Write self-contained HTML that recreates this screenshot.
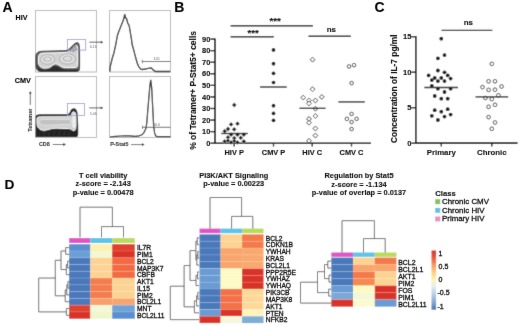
<!DOCTYPE html>
<html><head><meta charset="utf-8"><style>
html,body{margin:0;padding:0;background:#fff;}
body{width:520px;height:326px;overflow:hidden;}
svg{display:block;font-family:"Liberation Sans", sans-serif;}
</style></head><body>
<svg width="520" height="326" viewBox="0 0 520 326" font-family='"Liberation Sans", sans-serif'>
<defs><filter id="soft" x="0" y="0" width="520" height="326" filterUnits="userSpaceOnUse" primitiveUnits="userSpaceOnUse"><feConvolveMatrix order="3" kernelMatrix="0.01440 0.09120 0.01440 0.09120 0.57760 0.09120 0.01440 0.09120 0.01440" divisor="1" edgeMode="duplicate"/></filter></defs>
<filter id="softt" x="0" y="0" width="520" height="326" filterUnits="userSpaceOnUse" primitiveUnits="userSpaceOnUse"><feConvolveMatrix order="3" kernelMatrix="0.00250 0.04500 0.00250 0.04500 0.81000 0.04500 0.00250 0.04500 0.00250" divisor="1" edgeMode="duplicate"/></filter>
<rect width="520" height="326" fill="#fff"/>
<g filter="url(#soft)">
<rect width="520" height="326" fill="#fff"/>
<rect x="35.5" y="10.5" width="61" height="61.5" fill="none" stroke="#b8b8b8" stroke-width="1"/>
<rect x="35.5" y="76.5" width="61" height="61" fill="none" stroke="#b8b8b8" stroke-width="1"/>
<rect x="109.5" y="10.5" width="61" height="61.5" fill="none" stroke="#b8b8b8" stroke-width="1"/>
<rect x="109.5" y="76.5" width="61" height="61" fill="none" stroke="#b8b8b8" stroke-width="1"/>
<path d="M35.9,57 C35.9,53 37.8,51.4 42,51.3 L64,50.7 C66.5,50.6 68,50 69.5,48.6 L72.5,45.5 C74,44 75.8,42.7 77.3,42.6 C78.8,42.6 79.3,44.5 79.4,48 L79.6,52 L79.6,68 C79.6,70.6 78.6,71.4 76,71.4 L41,71.4 C37.5,71.4 35.9,69 35.9,65 Z" fill="#6a6a6a" stroke="#242424" stroke-width="0.9"/>
<path d="M37,64 C38,67 40,69.5 45,69.5 C48,69.5 50,68.5 52,67 C54,65.5 56,65.5 58,66.5 C61,68.5 63,69.5 66,69.5 L78,69.5 L79.4,69 L79.4,70 C79.2,71 78.4,71.4 76,71.4 L41,71.4 C38.5,71.4 37.2,69 37,66 Z" fill="#2e2e2e"/>
<path d="M38.5,57.5 C38.5,54.6 40.2,53.2 43.5,53.1 L65,52.6 C67.5,52.5 69,51.8 70.5,50.5 L73.5,47.5 C74.8,46.3 75.8,45.5 76.6,45.5 C77.5,45.5 77.7,46.8 77.7,49.5 L77.7,64.5 C77.7,66.8 76.7,67.6 74,67.6 L65,67.6 C61.5,67.6 59.5,64.8 57,64 C54.8,63.4 53,64.4 51,66.3 C49.5,67.6 47.8,68.1 45,68.1 C40.8,68.1 38.5,65.5 38.5,61.5 Z" fill="#d2d2d2" stroke="#fdfdfd" stroke-width="1.0"/>
<ellipse cx="47.5" cy="59.5" rx="7.4" ry="4.8" fill="none" stroke="#9a9a9a" stroke-width="0.5"/>
<ellipse cx="47.5" cy="59.3" rx="5.6" ry="3.4" fill="none" stroke="#ffffff" stroke-width="0.5"/>
<ellipse cx="47.5" cy="59.1" rx="3.8" ry="2.2" fill="none" stroke="#9a9a9a" stroke-width="0.5"/>
<ellipse cx="47.5" cy="59" rx="2" ry="1.1" fill="none" stroke="#ffffff" stroke-width="0.5"/>
<ellipse cx="67.5" cy="59" rx="8.2" ry="5.2" fill="none" stroke="#9a9a9a" stroke-width="0.5"/>
<ellipse cx="67.5" cy="58.8" rx="6.2" ry="3.8" fill="none" stroke="#ffffff" stroke-width="0.5"/>
<ellipse cx="67.5" cy="58.6" rx="4.2" ry="2.5" fill="none" stroke="#9a9a9a" stroke-width="0.5"/>
<ellipse cx="67.5" cy="58.5" rx="2.2" ry="1.3" fill="none" stroke="#ffffff" stroke-width="0.5"/>
<path d="M43,68.8 L40.5,71 M47,68.8 L44.5,71 M51,67.8 L48.5,71 M55,66.3 L52.5,71 M59,67.2 L56.5,71 M63,68.5 L60.5,71 M67,68.6 L64.5,71 M71,68.6 L68.5,71 M75,68.6 L72.5,71" stroke="#2e2e2e" stroke-width="0.55" fill="none"/>
<path d="M70,51.5 L73.5,48 L76.2,46.2 M72.8,52 L75.6,49 L77,48" stroke="#2a2a2a" stroke-width="0.75" fill="none"/>
<rect x="67.5" y="39.5" width="18.2" height="10.6" fill="none" stroke="#9898d4" stroke-width="0.85"/>
<line x1="89.2" y1="42.2" x2="101.5" y2="42.2" stroke="#333" stroke-width="0.8"/>
<path d="M100.8,40.8 L103.2,42.2 L100.8,43.6 Z" fill="#111"/>
<path d="M35.6,117 C35.6,115.2 37,114.4 40,114.3 L67.5,114.2 C69,114.1 69.8,112.5 70.6,110.6 C71.4,108.9 72.8,108.2 74.2,108.3 C76,108.5 77.2,110.5 77.6,113.5 L78.2,125 L78.2,134.5 C78.2,136.4 77.4,137 75,137 L35.6,137 Z" fill="#232323"/>
<path d="M36.9,119 C36.9,117.4 38,116.8 40.5,116.8 L69.5,116.7 C70.7,116.6 71.3,114.8 72,113.2 C72.8,111.5 74.6,111.3 75.3,113 C76.1,115.2 76.2,120 76.1,125 C76,129 75.4,130.6 73.8,130.6 C72.3,130.6 71.3,128.9 68.8,128.6 L56,128.2 C50.5,128.2 47.5,130.3 44,130.3 C39.5,130.3 36.9,127 36.9,123 Z" fill="#d0d0d0" stroke="#fcfcfc" stroke-width="0.95"/>
<path d="M39.5,121.5 C39.5,120 41,119.5 43.5,119.5 L68,119.4 C70,119.4 71,120.4 71,122 C71,123.6 70,124.6 68,124.6 L46,125.2 C42,125.3 39.5,124.2 39.5,121.5 Z" fill="#c2c2c2" stroke="#f0f0f0" stroke-width="0.6"/>
<path d="M72.8,115.5 C73.4,113.5 74.6,113.6 74.8,116 L74.8,126 C74.7,128.5 73.2,128.6 72.9,126 Z" fill="#e8e8e8" stroke="#fff" stroke-width="0.6"/>
<path d="M40,132.5 L38.5,136 M45,132 L43.5,136 M50,131.5 L48.5,136 M55,131 L53.5,136 M60,131 L58.5,136 M65,131 L63.5,136 M70,131.5 L68.5,136" stroke="#4a4a4a" stroke-width="0.4" fill="none"/>
<rect x="67.4" y="103.5" width="17.1" height="12" fill="none" stroke="#9898d4" stroke-width="0.85"/>
<line x1="89.2" y1="107.9" x2="101.5" y2="107.9" stroke="#333" stroke-width="0.8"/>
<path d="M100.8,106.5 L103.2,107.9 L100.8,109.3 Z" fill="#111"/>
<line x1="30.3" y1="105" x2="30.3" y2="93" stroke="#222" stroke-width="0.7"/>
<path d="M28.9,93.6 L30.3,91.2 L31.7,93.6 Z" fill="#111"/>
<line x1="52.8" y1="144.5" x2="64" y2="144.5" stroke="#222" stroke-width="0.7"/>
<path d="M63.4,143.1 L65.8,144.5 L63.4,145.9 Z" fill="#111"/>
<line x1="131" y1="144.6" x2="142.6" y2="144.6" stroke="#444" stroke-width="0.8"/>
<path d="M142,143.2 L144.5,144.6 L142,146 Z" fill="#111"/>
<path d="M109.8,71.6 L110.2,66.5 L111,63.6 L112.3,58 L113.9,53 L115.8,44.3 L117.4,35.5 L118.8,31.6 L120.7,26.7 L122.7,21.8 L124.1,17.8 L124.7,14.2 L125.2,16.5 L125.6,17.8 L126.6,18.6 L127.6,22.7 L129.2,25.7 L130.5,33.5 L131.5,39.4 L132.1,44.3 L133.5,49.2 L135.7,57.8 L137.2,63 L138.7,66.6 L140.8,69.2 L142.3,69.5 L146,68.8 L149.6,68.2 L151.4,67.9 L152.5,69.2 L154,70.6 L155.8,71.5 L170.3,71.5" fill="none" stroke="#222" stroke-width="1.3"/>
<line x1="142.3" y1="61.5" x2="170.5" y2="61.5" stroke="#666" stroke-width="1.0"/>
<line x1="142.3" y1="59.8" x2="142.3" y2="63.2" stroke="#666" stroke-width="0.9"/>
<path d="M110,137 L113,136.6 L116,136.3 L120,136.0 L125,135.8 L130,135.9 L135,136.3 L138.9,135.8 L141.9,134.8 L143.8,132.9 L145.8,128.9 L146.8,123 L147.7,111.3 L148.7,99.5 L149.7,87.8 L150.7,79.9 L151.7,87.8 L152.6,105.4 L153.6,125 L154.6,132.9 L155.6,135.8 L157.5,136.6 L170.5,136.6" fill="none" stroke="#222" stroke-width="1.25"/>
<line x1="142.5" y1="127.3" x2="170.5" y2="127.3" stroke="#666" stroke-width="1.0"/>
<line x1="142.5" y1="125.6" x2="142.5" y2="129" stroke="#666" stroke-width="0.9"/>
<line x1="215.0" y1="38.4" x2="215.0" y2="143.9" stroke="#000" stroke-width="1.6"/>
<line x1="214.3" y1="143.2" x2="371" y2="143.2" stroke="#000" stroke-width="1.6"/>
<line x1="210.3" y1="143.2" x2="215" y2="143.2" stroke="#000" stroke-width="1.35"/>
<line x1="210.3" y1="131.63" x2="215" y2="131.63" stroke="#000" stroke-width="1.35"/>
<line x1="210.3" y1="120.05999999999999" x2="215" y2="120.05999999999999" stroke="#000" stroke-width="1.35"/>
<line x1="210.3" y1="108.48999999999998" x2="215" y2="108.48999999999998" stroke="#000" stroke-width="1.35"/>
<line x1="210.3" y1="96.91999999999999" x2="215" y2="96.91999999999999" stroke="#000" stroke-width="1.35"/>
<line x1="210.3" y1="85.35" x2="215" y2="85.35" stroke="#000" stroke-width="1.35"/>
<line x1="210.3" y1="73.77999999999999" x2="215" y2="73.77999999999999" stroke="#000" stroke-width="1.35"/>
<line x1="210.3" y1="62.20999999999998" x2="215" y2="62.20999999999998" stroke="#000" stroke-width="1.35"/>
<line x1="210.3" y1="50.639999999999986" x2="215" y2="50.639999999999986" stroke="#000" stroke-width="1.35"/>
<line x1="210.3" y1="39.06999999999999" x2="215" y2="39.06999999999999" stroke="#000" stroke-width="1.35"/>
<line x1="234.2" y1="143.2" x2="234.2" y2="146.5" stroke="#000" stroke-width="1.3"/>
<line x1="273.5" y1="143.2" x2="273.5" y2="146.5" stroke="#000" stroke-width="1.3"/>
<line x1="312.2" y1="143.2" x2="312.2" y2="146.5" stroke="#000" stroke-width="1.3"/>
<line x1="351.5" y1="143.2" x2="351.5" y2="146.5" stroke="#000" stroke-width="1.3"/>
<line x1="230.6" y1="25.7" x2="312.9" y2="25.7" stroke="#1a1a1a" stroke-width="1.35"/>
<line x1="230.6" y1="36.7" x2="273.8" y2="36.7" stroke="#1a1a1a" stroke-width="1.35"/>
<line x1="308.5" y1="36.2" x2="350.8" y2="36.2" stroke="#1a1a1a" stroke-width="1.35"/>
<path d="M234.2,102.6 L236.6,105 L234.2,107.4 L231.79999999999998,105 Z" fill="#111" stroke="#fff" stroke-width="0.5"/>
<path d="M231.1,121.99999999999999 L233.5,124.39999999999999 L231.1,126.8 L228.7,124.39999999999999 Z" fill="#111" stroke="#fff" stroke-width="0.5"/>
<path d="M237.5,121.29999999999998 L239.9,123.69999999999999 L237.5,126.1 L235.1,123.69999999999999 Z" fill="#111" stroke="#fff" stroke-width="0.5"/>
<path d="M228,126.6 L230.4,129.0 L228,131.4 L225.6,129.0 Z" fill="#111" stroke="#fff" stroke-width="0.5"/>
<path d="M234.2,126.89999999999998 L236.6,129.29999999999998 L234.2,131.7 L231.79999999999998,129.29999999999998 Z" fill="#111" stroke="#fff" stroke-width="0.5"/>
<path d="M224.7,128.79999999999998 L227.1,131.2 L224.7,133.6 L222.29999999999998,131.2 Z" fill="#111" stroke="#fff" stroke-width="0.5"/>
<path d="M231.1,132.29999999999998 L233.5,134.7 L231.1,137.1 L228.7,134.7 Z" fill="#111" stroke="#fff" stroke-width="0.5"/>
<path d="M237.5,132.29999999999998 L239.9,134.7 L237.5,137.1 L235.1,134.7 Z" fill="#111" stroke="#fff" stroke-width="0.5"/>
<path d="M243.8,132.29999999999998 L246.20000000000002,134.7 L243.8,137.1 L241.4,134.7 Z" fill="#111" stroke="#fff" stroke-width="0.5"/>
<path d="M228,134.89999999999998 L230.4,137.29999999999998 L228,139.7 L225.6,137.29999999999998 Z" fill="#111" stroke="#fff" stroke-width="0.5"/>
<path d="M240.8,135.39999999999998 L243.20000000000002,137.79999999999998 L240.8,140.2 L238.4,137.79999999999998 Z" fill="#111" stroke="#fff" stroke-width="0.5"/>
<path d="M234.2,135.7 L236.6,138.1 L234.2,140.5 L231.79999999999998,138.1 Z" fill="#111" stroke="#fff" stroke-width="0.5"/>
<path d="M224.7,138.89999999999998 L227.1,141.29999999999998 L224.7,143.7 L222.29999999999998,141.29999999999998 Z" fill="#111" stroke="#fff" stroke-width="0.5"/>
<path d="M228,138.39999999999998 L230.4,140.79999999999998 L228,143.2 L225.6,140.79999999999998 Z" fill="#111" stroke="#fff" stroke-width="0.5"/>
<path d="M234.2,138.6 L236.6,141.0 L234.2,143.4 L231.79999999999998,141.0 Z" fill="#111" stroke="#fff" stroke-width="0.5"/>
<path d="M243.8,138.89999999999998 L246.20000000000002,141.29999999999998 L243.8,143.7 L241.4,141.29999999999998 Z" fill="#111" stroke="#fff" stroke-width="0.5"/>
<path d="M231.1,140.0 L233.5,142.4 L231.1,144.8 L228.7,142.4 Z" fill="#111" stroke="#fff" stroke-width="0.5"/>
<path d="M237.5,140.0 L239.9,142.4 L237.5,144.8 L235.1,142.4 Z" fill="#111" stroke="#fff" stroke-width="0.5"/>
<line x1="221.1" y1="133.5" x2="248" y2="133.5" stroke="#111" stroke-width="1.3"/>
<circle cx="273.5" cy="49.900000000000006" r="1.85" fill="#111" stroke="none" stroke-width="0.7"/>
<circle cx="273.5" cy="63.7" r="1.85" fill="#111" stroke="none" stroke-width="0.7"/>
<circle cx="273.5" cy="73.3" r="1.85" fill="#111" stroke="none" stroke-width="0.7"/>
<circle cx="273.5" cy="82.5" r="1.85" fill="#111" stroke="none" stroke-width="0.7"/>
<circle cx="273.5" cy="105.7" r="1.85" fill="#111" stroke="none" stroke-width="0.7"/>
<circle cx="273.5" cy="113.4" r="1.85" fill="#111" stroke="none" stroke-width="0.7"/>
<circle cx="273.5" cy="120.3" r="1.85" fill="#111" stroke="none" stroke-width="0.7"/>
<line x1="260" y1="87" x2="286.8" y2="87" stroke="#1a1a1a" stroke-width="1.3"/>
<path d="M312.5,57.3 L314.9,59.699999999999996 L312.5,62.099999999999994 L310.1,59.699999999999996 Z" fill="#fff" stroke="#1a1a1a" stroke-width="0.85"/>
<path d="M312.5,86.8 L314.9,89.2 L312.5,91.60000000000001 L310.1,89.2 Z" fill="#fff" stroke="#1a1a1a" stroke-width="0.85"/>
<path d="M303.2,95.2 L305.59999999999997,97.60000000000001 L303.2,100.00000000000001 L300.8,97.60000000000001 Z" fill="#fff" stroke="#1a1a1a" stroke-width="0.85"/>
<path d="M309,98.1 L311.4,100.5 L309,102.9 L306.6,100.5 Z" fill="#fff" stroke="#1a1a1a" stroke-width="0.85"/>
<path d="M309,101.1 L311.4,103.5 L309,105.9 L306.6,103.5 Z" fill="#fff" stroke="#1a1a1a" stroke-width="0.85"/>
<path d="M315.4,98.1 L317.79999999999995,100.5 L315.4,102.9 L313.0,100.5 Z" fill="#fff" stroke="#1a1a1a" stroke-width="0.85"/>
<path d="M321.8,94.5 L324.2,96.9 L321.8,99.30000000000001 L319.40000000000003,96.9 Z" fill="#fff" stroke="#1a1a1a" stroke-width="0.85"/>
<path d="M315.4,106.3 L317.79999999999995,108.7 L315.4,111.10000000000001 L313.0,108.7 Z" fill="#fff" stroke="#1a1a1a" stroke-width="0.85"/>
<path d="M309,116.5 L311.4,118.9 L309,121.30000000000001 L306.6,118.9 Z" fill="#fff" stroke="#1a1a1a" stroke-width="0.85"/>
<path d="M309,120.3 L311.4,122.7 L309,125.10000000000001 L306.6,122.7 Z" fill="#fff" stroke="#1a1a1a" stroke-width="0.85"/>
<path d="M315.4,113.6 L317.79999999999995,116.0 L315.4,118.4 L313.0,116.0 Z" fill="#fff" stroke="#1a1a1a" stroke-width="0.85"/>
<path d="M315.4,126.1 L317.79999999999995,128.5 L315.4,130.9 L313.0,128.5 Z" fill="#fff" stroke="#1a1a1a" stroke-width="0.85"/>
<path d="M315.4,133.1 L317.79999999999995,135.5 L315.4,137.9 L313.0,135.5 Z" fill="#fff" stroke="#1a1a1a" stroke-width="0.85"/>
<path d="M309,138.4 L311.4,140.8 L309,143.20000000000002 L306.6,140.8 Z" fill="#fff" stroke="#1a1a1a" stroke-width="0.85"/>
<line x1="299.4" y1="108.3" x2="325.6" y2="108.3" stroke="#1a1a1a" stroke-width="1.3"/>
<circle cx="349.0" cy="66.45" r="1.8" fill="#fff" stroke="#1a1a1a" stroke-width="0.8"/>
<circle cx="354.0" cy="65.15" r="1.8" fill="#fff" stroke="#1a1a1a" stroke-width="0.8"/>
<circle cx="351.59999999999997" cy="83.15" r="1.8" fill="#fff" stroke="#1a1a1a" stroke-width="0.8"/>
<circle cx="351.59999999999997" cy="113.95" r="1.8" fill="#fff" stroke="#1a1a1a" stroke-width="0.8"/>
<circle cx="346.9" cy="118.85" r="1.8" fill="#fff" stroke="#1a1a1a" stroke-width="0.8"/>
<circle cx="356.59999999999997" cy="118.85" r="1.8" fill="#fff" stroke="#1a1a1a" stroke-width="0.8"/>
<circle cx="351.59999999999997" cy="122.05" r="1.8" fill="#fff" stroke="#1a1a1a" stroke-width="0.8"/>
<circle cx="351.59999999999997" cy="129.05" r="1.8" fill="#fff" stroke="#1a1a1a" stroke-width="0.8"/>
<line x1="338.4" y1="101.9" x2="364.8" y2="101.9" stroke="#1a1a1a" stroke-width="1.3"/>
<line x1="415.8" y1="36.1" x2="415.8" y2="143.9" stroke="#000" stroke-width="1.6"/>
<line x1="415.1" y1="143.1" x2="517.5" y2="143.1" stroke="#000" stroke-width="1.6"/>
<line x1="411.3" y1="143.2" x2="415.8" y2="143.2" stroke="#000" stroke-width="1.35"/>
<line x1="411.3" y1="107.69999999999999" x2="415.8" y2="107.69999999999999" stroke="#000" stroke-width="1.35"/>
<line x1="411.3" y1="72.19999999999999" x2="415.8" y2="72.19999999999999" stroke="#000" stroke-width="1.35"/>
<line x1="411.3" y1="36.69999999999999" x2="415.8" y2="36.69999999999999" stroke="#000" stroke-width="1.35"/>
<line x1="441.3" y1="143.2" x2="441.3" y2="146.5" stroke="#000" stroke-width="1.3"/>
<line x1="491.8" y1="143.2" x2="491.8" y2="146.5" stroke="#000" stroke-width="1.3"/>
<line x1="441.6" y1="30.3" x2="492.3" y2="30.3" stroke="#1a1a1a" stroke-width="1.3"/>
<circle cx="441.3" cy="38.699999999999996" r="1.9" fill="#111" stroke="none" stroke-width="0.7"/>
<circle cx="437.9" cy="58.3" r="1.9" fill="#111" stroke="none" stroke-width="0.7"/>
<circle cx="444.5" cy="55.099999999999994" r="1.9" fill="#111" stroke="none" stroke-width="0.7"/>
<circle cx="437.9" cy="70.5" r="1.9" fill="#111" stroke="none" stroke-width="0.7"/>
<circle cx="444.5" cy="72.3" r="1.9" fill="#111" stroke="none" stroke-width="0.7"/>
<circle cx="428.6" cy="75.39999999999999" r="1.9" fill="#111" stroke="none" stroke-width="0.7"/>
<circle cx="434.7" cy="77.89999999999999" r="1.9" fill="#111" stroke="none" stroke-width="0.7"/>
<circle cx="447.7" cy="75.39999999999999" r="1.9" fill="#111" stroke="none" stroke-width="0.7"/>
<circle cx="441.3" cy="77.89999999999999" r="1.9" fill="#111" stroke="none" stroke-width="0.7"/>
<circle cx="431.8" cy="80.1" r="1.9" fill="#111" stroke="none" stroke-width="0.7"/>
<circle cx="437.9" cy="81.1" r="1.9" fill="#111" stroke="none" stroke-width="0.7"/>
<circle cx="444.5" cy="81.1" r="1.9" fill="#111" stroke="none" stroke-width="0.7"/>
<circle cx="450.6" cy="78.6" r="1.9" fill="#111" stroke="none" stroke-width="0.7"/>
<circle cx="431.8" cy="85.8" r="1.9" fill="#111" stroke="none" stroke-width="0.7"/>
<circle cx="437.9" cy="88.7" r="1.9" fill="#111" stroke="none" stroke-width="0.7"/>
<circle cx="450.6" cy="88.7" r="1.9" fill="#111" stroke="none" stroke-width="0.7"/>
<circle cx="444.5" cy="92.0" r="1.9" fill="#111" stroke="none" stroke-width="0.7"/>
<circle cx="434.7" cy="96.0" r="1.9" fill="#111" stroke="none" stroke-width="0.7"/>
<circle cx="441.3" cy="98.7" r="1.9" fill="#111" stroke="none" stroke-width="0.7"/>
<circle cx="447.7" cy="98.7" r="1.9" fill="#111" stroke="none" stroke-width="0.7"/>
<circle cx="434.7" cy="110.2" r="1.9" fill="#111" stroke="none" stroke-width="0.7"/>
<circle cx="441.3" cy="111.7" r="1.9" fill="#111" stroke="none" stroke-width="0.7"/>
<circle cx="447.7" cy="109.2" r="1.9" fill="#111" stroke="none" stroke-width="0.7"/>
<circle cx="431.8" cy="115.8" r="1.9" fill="#111" stroke="none" stroke-width="0.7"/>
<circle cx="444.5" cy="116.6" r="1.9" fill="#111" stroke="none" stroke-width="0.7"/>
<circle cx="450.6" cy="114.6" r="1.9" fill="#111" stroke="none" stroke-width="0.7"/>
<circle cx="437.9" cy="120.0" r="1.9" fill="#111" stroke="none" stroke-width="0.7"/>
<line x1="424.4" y1="87.5" x2="458" y2="87.5" stroke="#1a1a1a" stroke-width="1.3"/>
<circle cx="491.8" cy="63.9" r="1.85" fill="#fff" stroke="#222" stroke-width="0.8"/>
<circle cx="488.6" cy="81.3" r="1.85" fill="#fff" stroke="#222" stroke-width="0.8"/>
<circle cx="495" cy="81.3" r="1.85" fill="#fff" stroke="#222" stroke-width="0.8"/>
<circle cx="482.5" cy="87.1" r="1.85" fill="#fff" stroke="#222" stroke-width="0.8"/>
<circle cx="488.6" cy="89.89999999999999" r="1.85" fill="#fff" stroke="#222" stroke-width="0.8"/>
<circle cx="495" cy="89.7" r="1.85" fill="#fff" stroke="#222" stroke-width="0.8"/>
<circle cx="501.6" cy="86.5" r="1.85" fill="#fff" stroke="#222" stroke-width="0.8"/>
<circle cx="498.4" cy="95.3" r="1.85" fill="#fff" stroke="#222" stroke-width="0.8"/>
<circle cx="485.4" cy="98.0" r="1.85" fill="#fff" stroke="#222" stroke-width="0.8"/>
<circle cx="491.8" cy="99.1" r="1.85" fill="#fff" stroke="#222" stroke-width="0.8"/>
<circle cx="488.6" cy="106.8" r="1.85" fill="#fff" stroke="#222" stroke-width="0.8"/>
<circle cx="495" cy="104.8" r="1.85" fill="#fff" stroke="#222" stroke-width="0.8"/>
<circle cx="488.6" cy="117.1" r="1.85" fill="#fff" stroke="#222" stroke-width="0.8"/>
<circle cx="495" cy="122.5" r="1.85" fill="#fff" stroke="#222" stroke-width="0.8"/>
<circle cx="491.8" cy="128.8" r="1.85" fill="#fff" stroke="#222" stroke-width="0.8"/>
<line x1="475.5" y1="96.9" x2="508.2" y2="96.9" stroke="#1a1a1a" stroke-width="1.3"/>
<rect x="69.1" y="238.1" width="21.30000000000001" height="4.9" fill="#e052c8" stroke="none" stroke-width="1"/>
<rect x="90.4" y="238.1" width="21.799999999999997" height="4.9" fill="#5cc4e8" stroke="none" stroke-width="1"/>
<rect x="112.2" y="238.1" width="22.60000000000001" height="4.9" fill="#b8dc58" stroke="none" stroke-width="1"/>
<rect x="69.1" y="244.2" width="21.350000000000012" height="6.819999999999999" fill="#5b8fcf" stroke="none" stroke-width="1"/>
<rect x="90.4" y="244.2" width="21.849999999999998" height="6.819999999999999" fill="#fdf0b0" stroke="none" stroke-width="1"/>
<rect x="112.2" y="244.2" width="22.65000000000001" height="6.819999999999999" fill="#e0402e" stroke="none" stroke-width="1"/>
<rect x="69.1" y="250.97" width="21.350000000000012" height="6.819999999999999" fill="#6a9fd6" stroke="none" stroke-width="1"/>
<rect x="90.4" y="250.97" width="21.849999999999998" height="6.819999999999999" fill="#f5f7d0" stroke="none" stroke-width="1"/>
<rect x="112.2" y="250.97" width="22.65000000000001" height="6.819999999999999" fill="#d93027" stroke="none" stroke-width="1"/>
<rect x="69.1" y="257.74" width="21.350000000000012" height="6.819999999999999" fill="#4a78bb" stroke="none" stroke-width="1"/>
<rect x="90.4" y="257.74" width="21.849999999999998" height="6.819999999999999" fill="#fdd393" stroke="none" stroke-width="1"/>
<rect x="112.2" y="257.74" width="22.65000000000001" height="6.819999999999999" fill="#f36b43" stroke="none" stroke-width="1"/>
<rect x="69.1" y="264.51" width="21.350000000000012" height="6.819999999999999" fill="#4a78bb" stroke="none" stroke-width="1"/>
<rect x="90.4" y="264.51" width="21.849999999999998" height="6.819999999999999" fill="#fdd393" stroke="none" stroke-width="1"/>
<rect x="112.2" y="264.51" width="22.65000000000001" height="6.819999999999999" fill="#f36b43" stroke="none" stroke-width="1"/>
<rect x="69.1" y="271.28" width="21.350000000000012" height="6.819999999999999" fill="#4a78bb" stroke="none" stroke-width="1"/>
<rect x="90.4" y="271.28" width="21.849999999999998" height="6.819999999999999" fill="#fdd393" stroke="none" stroke-width="1"/>
<rect x="112.2" y="271.28" width="22.65000000000001" height="6.819999999999999" fill="#f36b43" stroke="none" stroke-width="1"/>
<rect x="69.1" y="278.04999999999995" width="21.350000000000012" height="6.819999999999999" fill="#4a78bb" stroke="none" stroke-width="1"/>
<rect x="90.4" y="278.04999999999995" width="21.849999999999998" height="6.819999999999999" fill="#f47d4e" stroke="none" stroke-width="1"/>
<rect x="112.2" y="278.04999999999995" width="22.65000000000001" height="6.819999999999999" fill="#fdd393" stroke="none" stroke-width="1"/>
<rect x="69.1" y="284.82" width="21.350000000000012" height="6.819999999999999" fill="#4a78bb" stroke="none" stroke-width="1"/>
<rect x="90.4" y="284.82" width="21.849999999999998" height="6.819999999999999" fill="#f47d4e" stroke="none" stroke-width="1"/>
<rect x="112.2" y="284.82" width="22.65000000000001" height="6.819999999999999" fill="#fdd393" stroke="none" stroke-width="1"/>
<rect x="69.1" y="291.59" width="21.350000000000012" height="6.819999999999999" fill="#4a78bb" stroke="none" stroke-width="1"/>
<rect x="90.4" y="291.59" width="21.849999999999998" height="6.819999999999999" fill="#f47d4e" stroke="none" stroke-width="1"/>
<rect x="112.2" y="291.59" width="22.65000000000001" height="6.819999999999999" fill="#fdd393" stroke="none" stroke-width="1"/>
<rect x="69.1" y="298.36" width="21.350000000000012" height="6.819999999999999" fill="#4a78bb" stroke="none" stroke-width="1"/>
<rect x="90.4" y="298.36" width="21.849999999999998" height="6.819999999999999" fill="#f9a06b" stroke="none" stroke-width="1"/>
<rect x="112.2" y="298.36" width="22.65000000000001" height="6.819999999999999" fill="#f9a46e" stroke="none" stroke-width="1"/>
<rect x="69.1" y="305.13" width="21.350000000000012" height="6.819999999999999" fill="#e0402e" stroke="none" stroke-width="1"/>
<rect x="90.4" y="305.13" width="21.849999999999998" height="6.819999999999999" fill="#f3f8d6" stroke="none" stroke-width="1"/>
<rect x="112.2" y="305.13" width="22.65000000000001" height="6.819999999999999" fill="#6ea3d8" stroke="none" stroke-width="1"/>
<rect x="69.1" y="311.9" width="21.350000000000012" height="6.819999999999999" fill="#d93027" stroke="none" stroke-width="1"/>
<rect x="90.4" y="311.9" width="21.849999999999998" height="6.819999999999999" fill="#f0f6cc" stroke="none" stroke-width="1"/>
<rect x="112.2" y="311.9" width="22.65000000000001" height="6.819999999999999" fill="#5a8fcf" stroke="none" stroke-width="1"/>
<line x1="69.1" y1="250.97" x2="134.8" y2="250.97" stroke="rgba(255,255,255,0.3)" stroke-width="0.6"/>
<line x1="69.1" y1="257.74" x2="134.8" y2="257.74" stroke="rgba(255,255,255,0.3)" stroke-width="0.6"/>
<line x1="69.1" y1="264.51" x2="134.8" y2="264.51" stroke="rgba(255,255,255,0.3)" stroke-width="0.6"/>
<line x1="69.1" y1="271.28" x2="134.8" y2="271.28" stroke="rgba(255,255,255,0.3)" stroke-width="0.6"/>
<line x1="69.1" y1="278.04999999999995" x2="134.8" y2="278.04999999999995" stroke="rgba(255,255,255,0.3)" stroke-width="0.6"/>
<line x1="69.1" y1="284.82" x2="134.8" y2="284.82" stroke="rgba(255,255,255,0.3)" stroke-width="0.6"/>
<line x1="69.1" y1="291.59" x2="134.8" y2="291.59" stroke="rgba(255,255,255,0.3)" stroke-width="0.6"/>
<line x1="69.1" y1="298.36" x2="134.8" y2="298.36" stroke="rgba(255,255,255,0.3)" stroke-width="0.6"/>
<line x1="69.1" y1="305.13" x2="134.8" y2="305.13" stroke="rgba(255,255,255,0.3)" stroke-width="0.6"/>
<line x1="69.1" y1="311.9" x2="134.8" y2="311.9" stroke="rgba(255,255,255,0.3)" stroke-width="0.6"/>
<path d="M80,237.4 L80,207.2 L112.4,207.2 L112.4,226.6 M101.5,237.4 L101.5,226.6 L123.5,226.6 L123.5,237.4" fill="none" stroke="#444" stroke-width="0.8"/>
<path d="M69,247.58499999999998 L65.7,247.58499999999998 L65.7,254.355 L69,254.355 M69,261.125 L67.6,261.125 L67.6,267.895 L69,267.895 M67.6,264.51 L66.3,264.51 L66.3,274.66499999999996 L69,274.66499999999996 M65.7,250.96999999999997 L61,250.96999999999997 L61,269.5875 L66.3,269.5875 M69,281.435 L67.9,281.435 L67.9,288.205 L69,288.205 M67.9,284.82 L66.8,284.82 L66.8,294.97499999999997 L69,294.97499999999997 M66.8,289.8975 L65.2,289.8975 L65.2,301.745 L69,301.745 M61,260.27874999999995 L55.3,260.27874999999995 L55.3,295.82124999999996 L65.2,295.82124999999996 M69,308.515 L66.4,308.515 L66.4,315.28499999999997 L69,315.28499999999997 M55.3,278.04999999999995 L38.7,278.04999999999995 L38.7,311.9 L66.4,311.9" fill="none" stroke="#444" stroke-width="0.8"/>
<rect x="199.5" y="228.6" width="21.099999999999994" height="4.6" fill="#e052c8" stroke="none" stroke-width="1"/>
<rect x="220.6" y="228.6" width="21.5" height="4.6" fill="#5cc4e8" stroke="none" stroke-width="1"/>
<rect x="242.1" y="228.6" width="21.400000000000006" height="4.6" fill="#b8dc58" stroke="none" stroke-width="1"/>
<rect x="199.5" y="234.4" width="21.149999999999995" height="6.87" fill="#4a78bb" stroke="none" stroke-width="1"/>
<rect x="220.6" y="234.4" width="21.55" height="6.87" fill="#fdd393" stroke="none" stroke-width="1"/>
<rect x="242.1" y="234.4" width="21.450000000000006" height="6.87" fill="#f47a4a" stroke="none" stroke-width="1"/>
<rect x="199.5" y="241.22" width="21.149999999999995" height="6.87" fill="#4a78bb" stroke="none" stroke-width="1"/>
<rect x="220.6" y="241.22" width="21.55" height="6.87" fill="#fdd393" stroke="none" stroke-width="1"/>
<rect x="242.1" y="241.22" width="21.450000000000006" height="6.87" fill="#f47a4a" stroke="none" stroke-width="1"/>
<rect x="199.5" y="248.04000000000002" width="21.149999999999995" height="6.87" fill="#4a78bb" stroke="none" stroke-width="1"/>
<rect x="220.6" y="248.04000000000002" width="21.55" height="6.87" fill="#f9a56c" stroke="none" stroke-width="1"/>
<rect x="242.1" y="248.04000000000002" width="21.450000000000006" height="6.87" fill="#f9a86e" stroke="none" stroke-width="1"/>
<rect x="199.5" y="254.86" width="21.149999999999995" height="6.87" fill="#4a78bb" stroke="none" stroke-width="1"/>
<rect x="220.6" y="254.86" width="21.55" height="6.87" fill="#f9a56c" stroke="none" stroke-width="1"/>
<rect x="242.1" y="254.86" width="21.450000000000006" height="6.87" fill="#f9a86e" stroke="none" stroke-width="1"/>
<rect x="199.5" y="261.68" width="21.149999999999995" height="6.87" fill="#4a78bb" stroke="none" stroke-width="1"/>
<rect x="220.6" y="261.68" width="21.55" height="6.87" fill="#f9a56c" stroke="none" stroke-width="1"/>
<rect x="242.1" y="261.68" width="21.450000000000006" height="6.87" fill="#f9a86e" stroke="none" stroke-width="1"/>
<rect x="199.5" y="268.5" width="21.149999999999995" height="6.87" fill="#6a9bd3" stroke="none" stroke-width="1"/>
<rect x="220.6" y="268.5" width="21.55" height="6.87" fill="#fefac4" stroke="none" stroke-width="1"/>
<rect x="242.1" y="268.5" width="21.450000000000006" height="6.87" fill="#d93027" stroke="none" stroke-width="1"/>
<rect x="199.5" y="275.32" width="21.149999999999995" height="6.87" fill="#6a9bd3" stroke="none" stroke-width="1"/>
<rect x="220.6" y="275.32" width="21.55" height="6.87" fill="#fefac4" stroke="none" stroke-width="1"/>
<rect x="242.1" y="275.32" width="21.450000000000006" height="6.87" fill="#d93027" stroke="none" stroke-width="1"/>
<rect x="199.5" y="282.14" width="21.149999999999995" height="6.87" fill="#6a9bd3" stroke="none" stroke-width="1"/>
<rect x="220.6" y="282.14" width="21.55" height="6.87" fill="#fefac4" stroke="none" stroke-width="1"/>
<rect x="242.1" y="282.14" width="21.450000000000006" height="6.87" fill="#d93027" stroke="none" stroke-width="1"/>
<rect x="199.5" y="288.96000000000004" width="21.149999999999995" height="6.87" fill="#4a78bb" stroke="none" stroke-width="1"/>
<rect x="220.6" y="288.96000000000004" width="21.55" height="6.87" fill="#f47047" stroke="none" stroke-width="1"/>
<rect x="242.1" y="288.96000000000004" width="21.450000000000006" height="6.87" fill="#fdd898" stroke="none" stroke-width="1"/>
<rect x="199.5" y="295.78000000000003" width="21.149999999999995" height="6.87" fill="#4a78bb" stroke="none" stroke-width="1"/>
<rect x="220.6" y="295.78000000000003" width="21.55" height="6.87" fill="#f47047" stroke="none" stroke-width="1"/>
<rect x="242.1" y="295.78000000000003" width="21.450000000000006" height="6.87" fill="#fdd898" stroke="none" stroke-width="1"/>
<rect x="199.5" y="302.6" width="21.149999999999995" height="6.87" fill="#4a78bb" stroke="none" stroke-width="1"/>
<rect x="220.6" y="302.6" width="21.55" height="6.87" fill="#f47047" stroke="none" stroke-width="1"/>
<rect x="242.1" y="302.6" width="21.450000000000006" height="6.87" fill="#fdd898" stroke="none" stroke-width="1"/>
<rect x="199.5" y="309.42" width="21.149999999999995" height="6.87" fill="#6a9bd3" stroke="none" stroke-width="1"/>
<rect x="220.6" y="309.42" width="21.55" height="6.87" fill="#d93027" stroke="none" stroke-width="1"/>
<rect x="242.1" y="309.42" width="21.450000000000006" height="6.87" fill="#fef3bc" stroke="none" stroke-width="1"/>
<rect x="199.5" y="316.24" width="21.149999999999995" height="6.87" fill="#d93027" stroke="none" stroke-width="1"/>
<rect x="220.6" y="316.24" width="21.55" height="6.87" fill="#f5f8dc" stroke="none" stroke-width="1"/>
<rect x="242.1" y="316.24" width="21.450000000000006" height="6.87" fill="#7fadd8" stroke="none" stroke-width="1"/>
<line x1="199.5" y1="241.22" x2="263.5" y2="241.22" stroke="rgba(255,255,255,0.3)" stroke-width="0.6"/>
<line x1="199.5" y1="248.04000000000002" x2="263.5" y2="248.04000000000002" stroke="rgba(255,255,255,0.3)" stroke-width="0.6"/>
<line x1="199.5" y1="254.86" x2="263.5" y2="254.86" stroke="rgba(255,255,255,0.3)" stroke-width="0.6"/>
<line x1="199.5" y1="261.68" x2="263.5" y2="261.68" stroke="rgba(255,255,255,0.3)" stroke-width="0.6"/>
<line x1="199.5" y1="268.5" x2="263.5" y2="268.5" stroke="rgba(255,255,255,0.3)" stroke-width="0.6"/>
<line x1="199.5" y1="275.32" x2="263.5" y2="275.32" stroke="rgba(255,255,255,0.3)" stroke-width="0.6"/>
<line x1="199.5" y1="282.14" x2="263.5" y2="282.14" stroke="rgba(255,255,255,0.3)" stroke-width="0.6"/>
<line x1="199.5" y1="288.96000000000004" x2="263.5" y2="288.96000000000004" stroke="rgba(255,255,255,0.3)" stroke-width="0.6"/>
<line x1="199.5" y1="295.78000000000003" x2="263.5" y2="295.78000000000003" stroke="rgba(255,255,255,0.3)" stroke-width="0.6"/>
<line x1="199.5" y1="302.6" x2="263.5" y2="302.6" stroke="rgba(255,255,255,0.3)" stroke-width="0.6"/>
<line x1="199.5" y1="309.42" x2="263.5" y2="309.42" stroke="rgba(255,255,255,0.3)" stroke-width="0.6"/>
<line x1="199.5" y1="316.24" x2="263.5" y2="316.24" stroke="rgba(255,255,255,0.3)" stroke-width="0.6"/>
<path d="M210,228.6 L210,197.5 L241.6,197.5 L241.6,216.4 M231.6,228.6 L231.6,216.4 L252.8,216.4 L252.8,228.6" fill="none" stroke="#444" stroke-width="0.8"/>
<path d="M199,237.81 L197.2,237.81 L197.2,244.63 L199,244.63 M199,251.45000000000002 L197.8,251.45000000000002 L197.8,258.27 L199,258.27 M197.8,254.86 L196.8,254.86 L196.8,265.09000000000003 L199,265.09000000000003 M197.2,241.22 L195.9,241.22 L195.9,259.975 L196.8,259.975 M199,271.91 L197.6,271.91 L197.6,278.73 L199,278.73 M197.6,275.32000000000005 L196,275.32000000000005 L196,285.55 L199,285.55 M195.9,250.59750000000003 L190,250.59750000000003 L190,280.43500000000006 L196,280.43500000000006 M199,292.37 L197.8,292.37 L197.8,299.19 L199,299.19 M197.8,295.78 L196.6,295.78 L196.6,306.01 L199,306.01 M196.6,300.895 L194.4,300.895 L194.4,312.83000000000004 L199,312.83000000000004 M190,265.51625 L184.1,265.51625 L184.1,306.8625 L194.4,306.8625 M184.1,286.18937500000004 L170.3,286.18937500000004 L170.3,319.65 L199,319.65" fill="none" stroke="#444" stroke-width="0.8"/>
<rect x="331.3" y="252.5" width="21.69999999999999" height="4.3" fill="#e052c8" stroke="none" stroke-width="1"/>
<rect x="353.0" y="252.5" width="21.80000000000001" height="4.3" fill="#5cc4e8" stroke="none" stroke-width="1"/>
<rect x="374.8" y="252.5" width="21.599999999999966" height="4.3" fill="#b8dc58" stroke="none" stroke-width="1"/>
<rect x="331.3" y="257.6" width="21.74999999999999" height="7.05" fill="#4a78bb" stroke="none" stroke-width="1"/>
<rect x="353.0" y="257.6" width="21.850000000000012" height="7.05" fill="#fdd393" stroke="none" stroke-width="1"/>
<rect x="374.8" y="257.6" width="21.649999999999967" height="7.05" fill="#f47a4a" stroke="none" stroke-width="1"/>
<rect x="331.3" y="264.6" width="21.74999999999999" height="7.05" fill="#4a78bb" stroke="none" stroke-width="1"/>
<rect x="353.0" y="264.6" width="21.850000000000012" height="7.05" fill="#f9a56c" stroke="none" stroke-width="1"/>
<rect x="374.8" y="264.6" width="21.649999999999967" height="7.05" fill="#f9a56c" stroke="none" stroke-width="1"/>
<rect x="331.3" y="271.6" width="21.74999999999999" height="7.05" fill="#4a78bb" stroke="none" stroke-width="1"/>
<rect x="353.0" y="271.6" width="21.850000000000012" height="7.05" fill="#f47a4a" stroke="none" stroke-width="1"/>
<rect x="374.8" y="271.6" width="21.649999999999967" height="7.05" fill="#fdd393" stroke="none" stroke-width="1"/>
<rect x="331.3" y="278.6" width="21.74999999999999" height="7.05" fill="#4a78bb" stroke="none" stroke-width="1"/>
<rect x="353.0" y="278.6" width="21.850000000000012" height="7.05" fill="#f7894f" stroke="none" stroke-width="1"/>
<rect x="374.8" y="278.6" width="21.649999999999967" height="7.05" fill="#fdd593" stroke="none" stroke-width="1"/>
<rect x="331.3" y="285.6" width="21.74999999999999" height="7.05" fill="#6a9bd3" stroke="none" stroke-width="1"/>
<rect x="353.0" y="285.6" width="21.850000000000012" height="7.05" fill="#fefac4" stroke="none" stroke-width="1"/>
<rect x="374.8" y="285.6" width="21.649999999999967" height="7.05" fill="#d93027" stroke="none" stroke-width="1"/>
<rect x="331.3" y="292.6" width="21.74999999999999" height="7.05" fill="#7aa8d8" stroke="none" stroke-width="1"/>
<rect x="353.0" y="292.6" width="21.850000000000012" height="7.05" fill="#f3f8d6" stroke="none" stroke-width="1"/>
<rect x="374.8" y="292.6" width="21.649999999999967" height="7.05" fill="#d93027" stroke="none" stroke-width="1"/>
<rect x="331.3" y="299.6" width="21.74999999999999" height="7.05" fill="#d93027" stroke="none" stroke-width="1"/>
<rect x="353.0" y="299.6" width="21.850000000000012" height="7.05" fill="#fefad0" stroke="none" stroke-width="1"/>
<rect x="374.8" y="299.6" width="21.649999999999967" height="7.05" fill="#6a9bd3" stroke="none" stroke-width="1"/>
<line x1="331.3" y1="264.6" x2="396.4" y2="264.6" stroke="rgba(255,255,255,0.3)" stroke-width="0.6"/>
<line x1="331.3" y1="271.6" x2="396.4" y2="271.6" stroke="rgba(255,255,255,0.3)" stroke-width="0.6"/>
<line x1="331.3" y1="278.6" x2="396.4" y2="278.6" stroke="rgba(255,255,255,0.3)" stroke-width="0.6"/>
<line x1="331.3" y1="285.6" x2="396.4" y2="285.6" stroke="rgba(255,255,255,0.3)" stroke-width="0.6"/>
<line x1="331.3" y1="292.6" x2="396.4" y2="292.6" stroke="rgba(255,255,255,0.3)" stroke-width="0.6"/>
<line x1="331.3" y1="299.6" x2="396.4" y2="299.6" stroke="rgba(255,255,255,0.3)" stroke-width="0.6"/>
<path d="M342,252.5 L342,220.7 L374.4,220.7 L374.4,238.6 M363.5,252.5 L363.5,238.6 L385.2,238.6 L385.2,252.5" fill="none" stroke="#444" stroke-width="0.8"/>
<path d="M331,261.1 L327.8,261.1 L327.8,268.1 L331,268.1 M331,275.1 L329,275.1 L329,282.1 L331,282.1 M327.8,264.6 L324.5,264.6 L324.5,278.6 L329,278.6 M331,289.1 L328.7,289.1 L328.7,296.1 L331,296.1 M324.5,271.7 L317.5,271.7 L317.5,292.6 L328.7,292.6 M317.5,282.2 L300.5,282.2 L300.5,303.1 L331,303.1" fill="none" stroke="#444" stroke-width="0.8"/>
<rect x="435.2" y="199.2" width="5" height="4.9" fill="#7fc55c" stroke="none" stroke-width="1"/>
<rect x="435.2" y="207.9" width="5" height="4.9" fill="#5cc0ea" stroke="none" stroke-width="1"/>
<rect x="435.2" y="216.5" width="5" height="4.9" fill="#ee90b4" stroke="none" stroke-width="1"/>
<defs><linearGradient id="cs" x1="0" y1="0" x2="0" y2="1"><stop offset="0" stop-color="#d73027"/><stop offset="0.12" stop-color="#e8553a"/><stop offset="0.25" stop-color="#f99e5e"/><stop offset="0.4" stop-color="#fed98a"/><stop offset="0.5" stop-color="#fff5b0"/><stop offset="0.6" stop-color="#e4eff2"/><stop offset="0.75" stop-color="#b3cde6"/><stop offset="0.88" stop-color="#7ea6d3"/><stop offset="1" stop-color="#4575b4"/></linearGradient></defs>
<rect x="431.5" y="250.5" width="4.6" height="59.2" fill="url(#cs)" stroke="none" stroke-width="1"/>
</g>
<g filter="url(#softt)">
<text x="2.5" y="11.8" font-size="14" font-weight="bold" text-anchor="start" fill="#000" stroke="#000" stroke-width="0.1" >A</text>
<text x="174.2" y="11.7" font-size="14" font-weight="bold" text-anchor="start" fill="#000" stroke="#000" stroke-width="0.1" >B</text>
<text x="374.6" y="11.5" font-size="14" font-weight="bold" text-anchor="start" fill="#000" stroke="#000" stroke-width="0.1" >C</text>
<text x="4.4" y="188.8" font-size="13.7" font-weight="bold" text-anchor="start" fill="#000" stroke="#000" stroke-width="0.1" >D</text>
<text x="15.6" y="20.1" font-size="7.1" font-weight="bold" text-anchor="start" fill="#000" stroke="#000" stroke-width="0.1" >HIV</text>
<text x="14.8" y="83.1" font-size="7.25" font-weight="bold" text-anchor="start" fill="#000" stroke="#000" stroke-width="0.1" >CMV</text>
<text x="90" y="48.3" font-size="3.4" text-anchor="start" fill="#666" stroke="#666" stroke-width="0.3" stroke-opacity="0">6.16</text>
<text x="90" y="114.6" font-size="3.4" text-anchor="start" fill="#666" stroke="#666" stroke-width="0.3" stroke-opacity="0">5.46</text>
<text transform="translate(32.4,131.8) rotate(-90)" font-size="5.5" font-weight="bold" fill="#3a3a3a" stroke="#3a3a3a" stroke-width="0.1">Tetramer</text>
<text x="38.9" y="146.3" font-size="5.4" font-weight="bold" text-anchor="start" fill="#3a3a3a" stroke="#3a3a3a" stroke-width="0.1" >CD8</text>
<text x="110.3" y="146.2" font-size="5.3" font-weight="bold" text-anchor="start" fill="#3a3a3a" stroke="#3a3a3a" stroke-width="0.1" >P-Stat5</text>
<text x="153.4" y="59.8" font-size="3.4" text-anchor="start" fill="#666" stroke="#666" stroke-width="0.3" stroke-opacity="0">3.61</text>
<text x="153.4" y="125.6" font-size="3.4" text-anchor="start" fill="#666" stroke="#666" stroke-width="0.3" stroke-opacity="0">90.6</text>
<text x="210.4" y="145.89999999999998" font-size="7.45" font-weight="bold" text-anchor="end" fill="#111" stroke="#111" stroke-width="0.1" >0</text>
<text x="210.4" y="134.32999999999998" font-size="7.45" font-weight="bold" text-anchor="end" fill="#111" stroke="#111" stroke-width="0.1" >10</text>
<text x="210.4" y="122.75999999999999" font-size="7.45" font-weight="bold" text-anchor="end" fill="#111" stroke="#111" stroke-width="0.1" >20</text>
<text x="210.4" y="111.18999999999998" font-size="7.45" font-weight="bold" text-anchor="end" fill="#111" stroke="#111" stroke-width="0.1" >30</text>
<text x="210.4" y="99.61999999999999" font-size="7.45" font-weight="bold" text-anchor="end" fill="#111" stroke="#111" stroke-width="0.1" >40</text>
<text x="210.4" y="88.05" font-size="7.45" font-weight="bold" text-anchor="end" fill="#111" stroke="#111" stroke-width="0.1" >50</text>
<text x="210.4" y="76.47999999999999" font-size="7.45" font-weight="bold" text-anchor="end" fill="#111" stroke="#111" stroke-width="0.1" >60</text>
<text x="210.4" y="64.90999999999998" font-size="7.45" font-weight="bold" text-anchor="end" fill="#111" stroke="#111" stroke-width="0.1" >70</text>
<text x="210.4" y="53.33999999999999" font-size="7.45" font-weight="bold" text-anchor="end" fill="#111" stroke="#111" stroke-width="0.1" >80</text>
<text x="210.4" y="41.769999999999996" font-size="7.45" font-weight="bold" text-anchor="end" fill="#111" stroke="#111" stroke-width="0.1" >90</text>
<text x="234.2" y="155.3" font-size="7.4" font-weight="bold" text-anchor="middle" fill="#111" stroke="#111" stroke-width="0.1" >HIV P</text>
<text x="273.5" y="155.3" font-size="7.4" font-weight="bold" text-anchor="middle" fill="#111" stroke="#111" stroke-width="0.1" >CMV P</text>
<text x="312.2" y="155.3" font-size="7.4" font-weight="bold" text-anchor="middle" fill="#111" stroke="#111" stroke-width="0.1" >HIV C</text>
<text x="351.5" y="155.3" font-size="7.4" font-weight="bold" text-anchor="middle" fill="#111" stroke="#111" stroke-width="0.1" >CMV C</text>
<text transform="translate(196.3,90.4) rotate(-90)" font-size="8.5" font-weight="bold" text-anchor="middle" fill="#111" stroke="#111" stroke-width="0.1">% of Tetramer+ P-Stat5+ cells</text>
<text x="275.2" y="24.0" font-size="9.8" font-weight="bold" text-anchor="middle" fill="#111" stroke="#111" stroke-width="0.1" >***</text>
<text x="253.2" y="36.2" font-size="9.6" font-weight="bold" text-anchor="middle" fill="#111" stroke="#111" stroke-width="0.1" >***</text>
<text x="331.4" y="32.1" font-size="8" font-weight="bold" text-anchor="middle" fill="#111" stroke="#111" stroke-width="0.1" >ns</text>
<text x="411.4" y="145.95" font-size="7.6" font-weight="bold" text-anchor="end" fill="#111" stroke="#111" stroke-width="0.1" >0</text>
<text x="411.4" y="110.44999999999999" font-size="7.6" font-weight="bold" text-anchor="end" fill="#111" stroke="#111" stroke-width="0.1" >5</text>
<text x="411.4" y="74.94999999999999" font-size="7.6" font-weight="bold" text-anchor="end" fill="#111" stroke="#111" stroke-width="0.1" >10</text>
<text x="411.4" y="39.44999999999999" font-size="7.6" font-weight="bold" text-anchor="end" fill="#111" stroke="#111" stroke-width="0.1" >15</text>
<text x="441.3" y="155.3" font-size="7.8" font-weight="bold" text-anchor="middle" fill="#111" stroke="#111" stroke-width="0.1" >Primary</text>
<text x="491.8" y="155.3" font-size="7.8" font-weight="bold" text-anchor="middle" fill="#111" stroke="#111" stroke-width="0.1" >Chronic</text>
<text transform="translate(397.2,88.7) rotate(-90)" font-size="8.35" font-weight="bold" text-anchor="middle" fill="#111" stroke="#111" stroke-width="0.1">Concentration of IL-7 pg/ml</text>
<text x="468.4" y="25" font-size="8" font-weight="bold" text-anchor="middle" fill="#111" stroke="#111" stroke-width="0.1" >ns</text>
<text x="103.2" y="177.9" font-size="7.4" font-weight="bold" text-anchor="middle" fill="#111" stroke="#111" stroke-width="0.1" >T cell viability</text>
<text x="103.2" y="186.45000000000002" font-size="7.4" font-weight="bold" text-anchor="middle" fill="#111" stroke="#111" stroke-width="0.1" >z-score = -2.143</text>
<text x="103.2" y="195.0" font-size="7.4" font-weight="bold" text-anchor="middle" fill="#111" stroke="#111" stroke-width="0.1" >p-value = 0.00478</text>
<text x="233.7" y="178.0" font-size="7.4" font-weight="bold" text-anchor="middle" fill="#111" stroke="#111" stroke-width="0.1" >PI3K/AKT Signaling</text>
<text x="233.7" y="186.1" font-size="7.4" font-weight="bold" text-anchor="middle" fill="#111" stroke="#111" stroke-width="0.1" >p-value = 0.00223</text>
<text x="359.0" y="178.4" font-size="7.4" font-weight="bold" text-anchor="middle" fill="#111" stroke="#111" stroke-width="0.1" >Regulation by Stat5</text>
<text x="359.0" y="186.65" font-size="7.4" font-weight="bold" text-anchor="middle" fill="#111" stroke="#111" stroke-width="0.1" >z-score = -1.134</text>
<text x="359.0" y="194.9" font-size="7.4" font-weight="bold" text-anchor="middle" fill="#111" stroke="#111" stroke-width="0.1" >p-value of overlap = 0.0137</text>
<text x="137" y="250.28499999999997" font-size="6.7" text-anchor="start" fill="#111" stroke="#111" stroke-width="0.3" >IL7R</text>
<text x="137" y="257.055" font-size="6.7" text-anchor="start" fill="#111" stroke="#111" stroke-width="0.3" >PIM1</text>
<text x="137" y="263.825" font-size="6.7" text-anchor="start" fill="#111" stroke="#111" stroke-width="0.3" >BCL2</text>
<text x="137" y="270.59499999999997" font-size="6.7" text-anchor="start" fill="#111" stroke="#111" stroke-width="0.3" >MAP3K7</text>
<text x="137" y="277.36499999999995" font-size="6.7" text-anchor="start" fill="#111" stroke="#111" stroke-width="0.3" >CBFB</text>
<text x="137" y="284.135" font-size="6.7" text-anchor="start" fill="#111" stroke="#111" stroke-width="0.3" >AKT1</text>
<text x="137" y="290.905" font-size="6.7" text-anchor="start" fill="#111" stroke="#111" stroke-width="0.3" >IL15</text>
<text x="137" y="297.67499999999995" font-size="6.7" text-anchor="start" fill="#111" stroke="#111" stroke-width="0.3" >PIM2</text>
<text x="137" y="304.445" font-size="6.7" text-anchor="start" fill="#111" stroke="#111" stroke-width="0.3" >BCL2L1</text>
<text x="137" y="311.215" font-size="6.7" text-anchor="start" fill="#111" stroke="#111" stroke-width="0.3" >MNT</text>
<text x="137" y="317.98499999999996" font-size="6.7" text-anchor="start" fill="#111" stroke="#111" stroke-width="0.3" >BCL2L11</text>
<text x="265.8" y="240.51" font-size="6.7" text-anchor="start" fill="#111" stroke="#111" stroke-width="0.3" >BCL2</text>
<text x="265.8" y="247.32999999999998" font-size="6.7" text-anchor="start" fill="#111" stroke="#111" stroke-width="0.3" >CDKN1B</text>
<text x="265.8" y="254.15" font-size="6.7" text-anchor="start" fill="#111" stroke="#111" stroke-width="0.3" >YWHAH</text>
<text x="265.8" y="260.96999999999997" font-size="6.7" text-anchor="start" fill="#111" stroke="#111" stroke-width="0.3" >KRAS</text>
<text x="265.8" y="267.79" font-size="6.7" text-anchor="start" fill="#111" stroke="#111" stroke-width="0.3" >BCL2L1</text>
<text x="265.8" y="274.61" font-size="6.7" text-anchor="start" fill="#111" stroke="#111" stroke-width="0.3" >PPP2R5E</text>
<text x="265.8" y="281.43" font-size="6.7" text-anchor="start" fill="#111" stroke="#111" stroke-width="0.3" >YWHAZ</text>
<text x="265.8" y="288.25" font-size="6.7" text-anchor="start" fill="#111" stroke="#111" stroke-width="0.3" >YWHAQ</text>
<text x="265.8" y="295.07" font-size="6.7" text-anchor="start" fill="#111" stroke="#111" stroke-width="0.3" >PIK3CB</text>
<text x="265.8" y="301.89" font-size="6.7" text-anchor="start" fill="#111" stroke="#111" stroke-width="0.3" >MAP3K8</text>
<text x="265.8" y="308.71" font-size="6.7" text-anchor="start" fill="#111" stroke="#111" stroke-width="0.3" >AKT1</text>
<text x="265.8" y="315.53000000000003" font-size="6.7" text-anchor="start" fill="#111" stroke="#111" stroke-width="0.3" >PTEN</text>
<text x="265.8" y="322.34999999999997" font-size="6.7" text-anchor="start" fill="#111" stroke="#111" stroke-width="0.3" >NFKB2</text>
<text x="398.2" y="264.60074626865674" font-size="6.95" text-anchor="start" fill="#111" stroke="#111" stroke-width="0.3" >BCL2</text>
<text x="398.2" y="271.60074626865674" font-size="6.95" text-anchor="start" fill="#111" stroke="#111" stroke-width="0.3" >BCL2L1</text>
<text x="398.2" y="278.60074626865674" font-size="6.95" text-anchor="start" fill="#111" stroke="#111" stroke-width="0.3" >AKT1</text>
<text x="398.2" y="285.60074626865674" font-size="6.95" text-anchor="start" fill="#111" stroke="#111" stroke-width="0.3" >PIM2</text>
<text x="398.2" y="292.60074626865674" font-size="6.95" text-anchor="start" fill="#111" stroke="#111" stroke-width="0.3" >FOS</text>
<text x="398.2" y="299.60074626865674" font-size="6.95" text-anchor="start" fill="#111" stroke="#111" stroke-width="0.3" >PIM1</text>
<text x="398.2" y="306.60074626865674" font-size="6.95" text-anchor="start" fill="#111" stroke="#111" stroke-width="0.3" >BCL2L11</text>
<text x="435.2" y="196.3" font-size="7.7" font-weight="bold" text-anchor="start" fill="#111" stroke="#111" stroke-width="0.1" >Class</text>
<text x="442" y="203.89999999999998" font-size="7.9" text-anchor="start" fill="#111" stroke="#111" stroke-width="0.3" >Chronic CMV</text>
<text x="442" y="212.6" font-size="7.9" text-anchor="start" fill="#111" stroke="#111" stroke-width="0.3" >Chronic HIV</text>
<text x="442" y="221.2" font-size="7.9" text-anchor="start" fill="#111" stroke="#111" stroke-width="0.3" >Primary HIV</text>
<text x="438.6" y="255.8" font-size="7" text-anchor="start" fill="#111" stroke="#111" stroke-width="0.3" >1</text>
<text x="438.6" y="269.3" font-size="7" text-anchor="start" fill="#111" stroke="#111" stroke-width="0.3" >0.5</text>
<text x="438.6" y="282.2" font-size="7" text-anchor="start" fill="#111" stroke="#111" stroke-width="0.3" >0</text>
<text x="437.5" y="295.1" font-size="7" text-anchor="start" fill="#111" stroke="#111" stroke-width="0.3" >-0.5</text>
<text x="437.5" y="308.6" font-size="7" text-anchor="start" fill="#111" stroke="#111" stroke-width="0.3" >-1</text>
</g>
</svg>
</body></html>
